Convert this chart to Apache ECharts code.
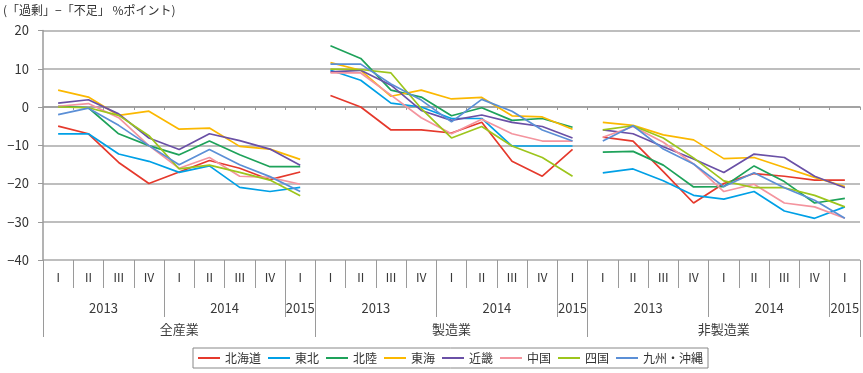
<!DOCTYPE html>
<html><head><meta charset="utf-8">
<script src="https://cdn.jsdelivr.net/npm/echarts@6/dist/echarts.min.js"></script>
<style>html,body{margin:0;padding:0;background:#fff}#c{width:863px;height:373px}</style>
</head><body><div id="c"></div>
<script>
// ---- data ----
const quarters = ['Ⅰ','Ⅱ','Ⅲ','Ⅳ','Ⅰ','Ⅱ','Ⅲ','Ⅳ','Ⅰ'];
const years = ['2013','2014','2015'];
const quartersPerYear = [4,4,1];
const sectors = ['全産業','製造業','非製造業'];
const regions = ['北海道','東北','北陸','東海','近畿','中国','四国','九州・沖縄'];
const yMin = -40, yMax = 20, yStep = 10;

// each array: 全産業 (9), 製造業 (9), 非製造業 (9)
const hokkaido = [-5,-7,-14.5,-20,-17,-14,-16,-19,-17, 3,0,-6,-6,-6.8,-4,-14.2,-18.1,-11.1, -7.9,-8.9,-16.9,-25.1,-20,-17.4,-18.1,-19.1,-19.1];
const tohoku   = [-7,-7,-12.3,-14.2,-17.1,-15.4,-21,-22.1,-21, 9.6,7,1,0,-3,-3,-10.2,-10.2,-10.2, -17.2,-16.2,-19.3,-23.1,-24.1,-22.1,-27.2,-29.1,-26.1];
const hokuriku = [0.2,-0.2,-7,-10.1,-12.5,-8.9,-12.5,-15.6,-15.6, 16,12.7,4.4,2.6,-2.3,-0.2,-3.5,-3,-5.3, -11.8,-11.6,-15.2,-20.9,-20.8,-15.4,-19.5,-25.1,-23.9];
const tokai    = [4.4,2.6,-2.2,-1.1,-5.8,-5.5,-10.3,-11,-13.7, 11.6,9.6,2.8,4.4,2.1,2.5,-2.3,-2.6,-5.8, -4,-4.8,-7.3,-8.6,-13.5,-13.2,-15.8,-18.4,-20.8];
const kinki    = [1,1.9,-1.8,-8.1,-11.1,-7,-8.8,-11,-15.2, 9.2,9.6,5.7,-0.9,-3.5,-2.1,-4,-5.1,-8.1, -6,-7,-10.4,-13.6,-17.1,-12.3,-13.2,-18.1,-21.1];
const chugoku  = [0.2,0.9,-2.8,-10.1,-16,-13.2,-18.1,-18.4,-20.2, 8.9,8.9,3.1,-2.8,-7,-3.2,-7,-8.9,-8.9, -7.9,-5.1,-9.2,-14.9,-22.1,-20.2,-25.1,-26.1,-29.1];
const shikoku  = [0,-0.2,-2.2,-7.5,-16.2,-15.2,-17.1,-19.1,-23.2, 9.9,9.8,8.9,-0.4,-8.1,-5.1,-10.2,-13.2,-18.1, -6,-4.9,-8.1,-13.3,-19.3,-21.1,-21.1,-23.1,-26.1];
const kyushu   = [-2,-0.3,-4.8,-10.1,-15.1,-11.1,-15.1,-18.2,-22.1, 11.2,11.2,6,1.8,-3.9,2,-1.1,-6,-8.9, -8.9,-4.9,-11,-14.9,-20.8,-17.2,-21.1,-24.4,-29.1];
const regionValues = [hokkaido,tohoku,hokuriku,tokai,kinki,chugoku,shikoku,kyushu];

// ---- styles ----
const colors = ['#e5392c','#00a0e6','#1ea25a','#fbb800','#6a50a6','#f4949e','#9dc51c','#5b8fd6'];
const FONT = 'Noto Sans CJK JP';
const GRAY = '#9a9a9a';

// ---- build categories ----
const nPer = quarters.length;
const cats = [];
sectors.forEach(s => quarters.forEach((q, i) => cats.push(s + q + i)));
const nHalf = cats.length * 2 + 1;

// row 1 (quarters)
const row1 = [], row1Ticks = new Set();
for (let i = 0; i < nHalf; i++) {
  row1.push(i % 2 ? quarters[((i - 1) / 2) % nPer] : '');
  if (i % 2 === 0) row1Ticks.add(i);
}
// row 2 (years)
const row2 = new Array(nHalf).fill(''), row2Ticks = new Set();
sectors.forEach((s, p) => {
  let start = p * nPer * 2;
  row2Ticks.add(start);
  years.forEach((y, k) => {
    const n = quartersPerYear[k];
    row2[start + n] = y;
    start += 2 * n;
    row2Ticks.add(start);
  });
});
// row 3 (sectors)
const row3 = new Array(nHalf).fill(''), row3Ticks = new Set();
sectors.forEach((s, p) => {
  row3[p * nPer * 2 + nPer] = s;
  row3Ticks.add(p * nPer * 2);
  row3Ticks.add((p + 1) * nPer * 2);
});

function rowAxis(data, ticks, len, margin, size) {
  return {
    type: 'category', gridIndex: 0, position: 'bottom', boundaryGap: false, data: data,
    axisLine: { show: false, onZero: false },
    axisTick: { show: true, length: len, interval: (i) => ticks.has(i), lineStyle: { color: GRAY, width: 1 } },
    axisLabel: { interval: 0, margin: margin, fontSize: size, color: '#3a3a3a', fontFamily: FONT },
    splitLine: { show: false }
  };
}

const series = [];
regions.forEach((r, k) => {
  sectors.forEach((s, p) => {
    const d = new Array(cats.length).fill('-');
    for (let i = 0; i < nPer; i++) d[p * nPer + i] = regionValues[k][p * nPer + i];
    series.push({
      name: r, type: 'line', xAxisIndex: 0, yAxisIndex: 0, data: d,
      symbol: 'none', showSymbol: false, connectNulls: false,
      lineStyle: { width: 1.7, color: colors[k] }, itemStyle: { color: colors[k] },
      emphasis: { disabled: true }, animation: false
    });
  });
});

const chart = echarts.init(document.getElementById('c'), null, { renderer: 'canvas' });
chart.setOption({
  animation: false,
  backgroundColor: '#fff',
  textStyle: { fontFamily: FONT },
  graphic: [{
    type: 'text', left: 3, top: 4,
    style: { text: '(「過剰」−「不足」 %ポイント)', fontSize: 12, fill: '#333', fontFamily: FONT }
  }],
  grid: { left: 43, right: 3, top: 30.5, bottom: 113, containLabel: false, outerBoundsMode: 'none' },
  legend: {
    data: regions, left: 193, top: 348, orient: 'horizontal',
    icon: 'rect', itemWidth: 22, itemHeight: 2, itemGap: 7,
    padding: [4, 5, 4, 5], borderColor: '#888', borderWidth: 1,
    textStyle: { fontSize: 12, color: '#333', fontFamily: FONT },
    selectedMode: false
  },
  xAxis: [
    {
      type: 'category', gridIndex: 0, data: cats, boundaryGap: true,
      axisLine: { show: true, onZero: true, lineStyle: { color: GRAY, width: 1.5 } },
      axisTick: { show: true, interval: 0, length: 3, lineStyle: { color: GRAY } },
      axisLabel: { show: false }, splitLine: { show: false }
    },
    rowAxis(row1, row1Ticks, 28, 11, 12),
    rowAxis(row2, row2Ticks, 57, 42, 13),
    rowAxis(row3, row3Ticks, 77, 63, 13)
  ],
  yAxis: [{
    type: 'value', min: yMin, max: yMax, interval: yStep,
    axisLine: { show: true, lineStyle: { color: GRAY, width: 1.5 } },
    axisTick: { show: true, length: 5, lineStyle: { color: GRAY } },
    splitLine: { show: true, lineStyle: { color: '#a8a8a8', width: 1.5 } },
    axisLabel: {
      margin: 14, fontSize: 13, color: '#333', fontFamily: FONT,
      formatter: v => v < 0 ? '−' + Math.abs(v) : String(v)
    }
  }],
  series: series
});
</script>
</body></html>
